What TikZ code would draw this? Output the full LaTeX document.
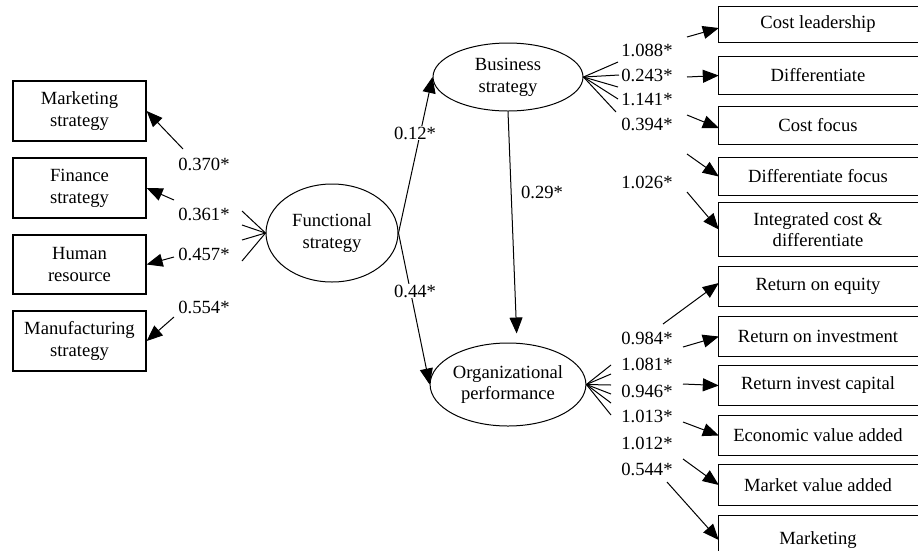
\documentclass[tikz,border=0pt]{standalone}
\usepackage{fontspec}
\setmainfont{Liberation Serif}
\usetikzlibrary{arrows.meta,shapes.geometric}
\begin{document}
\begin{tikzpicture}[x=1pt,y=-1pt,
  every node/.style={font=\fontsize{18.6}{21.7}\selectfont},
  lbox/.style={draw,line width=1.3pt,minimum width=133pt,inner sep=0pt,align=center},
  rbox/.style={minimum width=198pt,inner sep=0pt,align=center},
  latent/.style={draw,ellipse,line width=1pt,inner sep=0pt,align=center},
  lab/.style={inner sep=1pt},
  wlab/.style={fill=white,inner sep=1pt},
  con/.style={line width=1pt},
  arr/.style={line width=1pt,-{Triangle[length=16pt,width=13pt]}}]
\useasboundingbox (0,0) rectangle (918,550);
% latent variables
\node[latent,minimum width=132pt,minimum height=98pt] (fun) at (332,233) {Functional\\strategy};
\node[latent,minimum width=150pt,minimum height=68pt] (bus) at (508,77) {Business\\strategy};
\node[latent,minimum width=150pt,minimum height=83pt] (org) at (508,384.5) {Organizational\\performance};
% left boxes
\node[lbox,minimum height=60pt] (mk) at (79.5,111) {Marketing\\strategy};
\node[lbox,minimum height=60pt] (fi) at (79.5,188) {Finance\\strategy};
\node[lbox,minimum height=59pt] (hr) at (79.5,264.5) {Human\\resource};
\node[lbox,minimum height=60pt] (mf) at (79.5,341) {Manufacturing\\strategy};
% right boxes
\node[rbox,minimum height=35pt] (cl) at (818,24.5) {Cost leadership};
\node[rbox,minimum height=37pt] (di) at (818,75.5) {Differentiate};
\node[rbox,minimum height=37pt] (cf) at (818,125.5) {Cost focus};
\node[rbox,minimum height=37pt] (dfo) at (818,176.5) {Differentiate focus};
\node[rbox,minimum height=53pt] (ic) at (818,229.5) {Integrated cost \&\\differentiate};
\node[rbox,minimum height=39pt] (roe) at (818,286.5) {Return on equity};
\node[rbox,minimum height=39pt] (roi) at (818,336.5) {Return on investment};
\node[rbox,minimum height=39pt] (ric) at (818,385.5) {Return invest capital};
\node[rbox,minimum height=39pt] (eva) at (818,435.5) {Economic value added};
\node[rbox,minimum height=40pt] (mva) at (818,485) {Market value added};
\node[rbox,minimum height=48pt] (mkt) at (818,540) {Marketing};
\foreach \n in {cl,di,cf,dfo,ic,roe,roi,ric,eva,mva,mkt}
  \draw[line width=1.3pt] ([xshift=20pt]\n.north east) -- (\n.north west) -- (\n.south west) -- ([xshift=20pt]\n.south east);
% structural paths
\draw[arr] (fun.east) -- (bus.west);
\draw[arr] (fun.east) -- (org.west);
\draw[arr,shorten >=9pt] (bus.south) -- ([xshift=9pt]org.north);
\node[wlab] (l12) at (415,133) {0.12*};
\node[wlab] (l44) at (415,291) {0.44*};
\node[lab] (l29) at (542,192) {0.29*};
% functional stubs
\foreach \i/\y in {1/211,2/225,3/240,4/261}
  \coordinate (fs\i) at (242,\y);
\foreach \i in {1,...,4} \draw[con] (fun.west) -- (fs\i);
\coordinate (fa1) at (183,149);
\coordinate (fa2) at (174,200);
\coordinate (fa3) at (174,257);
\coordinate (fa4) at (174,317);
\draw[arr] (fa1) -- (mk.east);
\draw[arr] (fa2) -- (fi.east);
\draw[arr] (fa3) -- (hr.east);
\draw[arr] (fa4) -- (mf.east);
\node[lab] at (204,164) {0.370*};
\node[lab] at (204,214) {0.361*};
\node[lab] at (204,254) {0.457*};
\node[lab] at (204,307) {0.554*};
% business stubs
\foreach \i/\x/\y in {1/618/62,2/619/75,3/618/87,4/618/99,5/616/112}
  \coordinate (bs\i) at (\x,\y);
\foreach \i in {1,...,5} \draw[con] (bus.east) -- (bs\i);
\coordinate (ba1) at (687,37);
\coordinate (ba2) at (687,77);
\coordinate (ba3) at (687,115);
\coordinate (ba4) at (687,154);
\coordinate (ba5) at (687,192);
\draw[arr] (ba1) -- ([yshift=-3.5pt]cl.west);
\draw[arr] (ba2) -- (di.west);
\draw[arr] (ba3) -- ([yshift=-2.5pt]cf.west);
\draw[arr] (ba4) -- (dfo.west);
\draw[arr] (ba5) -- (ic.west);
\node[lab] at (647,50) {1.088*};
\node[lab] at (647,75) {0.243*};
\node[lab] at (647,99) {1.141*};
\node[lab] at (647,124) {0.394*};
\node[lab] at (647,182) {1.026*};
% organizational stubs
\foreach \i/\y in {1/365,2/374,3/385,4/394,5/403,6/415}
  \coordinate (os\i) at (611,\y);
\foreach \i in {1,...,6} \draw[con] (org.east) -- (os\i);
\coordinate (oa1) at (663,324);
\coordinate (oa2) at (683,347);
\coordinate (oa3) at (683,384);
\coordinate (oa4) at (683,422);
\coordinate (oa5) at (683,459);
\coordinate (oa6) at (667,482);
\draw[arr] (oa1) -- ([yshift=3.5pt]roe.west);
\draw[arr] (oa2) -- (roi.west);
\draw[arr] (oa3) -- (ric.west);
\draw[arr] (oa4) -- (eva.west);
\draw[arr] (oa5) -- (mva.west);
\draw[arr] (oa6) -- (mkt.west);
\node[lab] at (647,338) {0.984*};
\node[lab] at (647,364) {1.081*};
\node[lab] at (647,391) {0.946*};
\node[lab] at (647,416) {1.013*};
\node[lab] at (647,443) {1.012*};
\node[lab] at (647,469) {0.544*};
\end{tikzpicture}
\end{document}
